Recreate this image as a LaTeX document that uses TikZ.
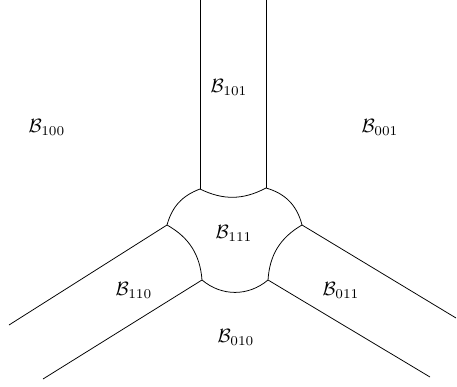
\documentclass[tikz,border=0pt]{standalone}
\usepackage{amsmath}

\begin{document}
\begin{tikzpicture}[x=0.52pt, y=-0.52pt]
    % 画布边界 (457 x 386)
    \useasboundingbox (0,0) rectangle (457,386);

    % 中心区域的六个交点
    \coordinate (tl) at (200,189);
    \coordinate (tr) at (266,188);
    \coordinate (r)  at (302,225);
    \coordinate (br) at (268,280);
    \coordinate (bl) at (202,280);
    \coordinate (l)  at (167,225);

    % 外侧端点
    \coordinate (tlEnd) at (200,0);
    \coordinate (trEnd) at (266,0);
    \coordinate (lEnd)  at (9,325);
    \coordinate (blEnd) at (43,379);
    \coordinate (rEnd)  at (456,318);
    \coordinate (brEnd) at (430,377);

    % 画中心区域 B_{111} 的边界
    \draw (tl) to[bend right=27] (tr)
               to[bend left=30] (r)
               to[bend right=28] (br)
               to[bend left=40] (bl)
               to[bend right=28] (l)
               to[bend left=27] (tl);

    % 画三条带状区域的边界
    \draw (tl) -- (tlEnd);
    \draw (tr) -- (trEnd);
    \draw (l) -- (lEnd);
    \draw (bl) -- (blEnd);
    \draw (r) -- (rEnd);
    \draw (br) -- (brEnd);

    % 标注各区域
    \node (B101) at (229,87)  {$\mathcal{B}_{101}$};
    \node (B100) at (47,127)  {$\mathcal{B}_{100}$};
    \node (B001) at (380,127) {$\mathcal{B}_{001}$};
    \node (B111) at (234,233) {$\mathcal{B}_{111}$};
    \node (B110) at (134,290) {$\mathcal{B}_{110}$};
    \node (B011) at (341,290) {$\mathcal{B}_{011}$};
    \node (B010) at (236,337) {$\mathcal{B}_{010}$};
\end{tikzpicture}
\end{document}
